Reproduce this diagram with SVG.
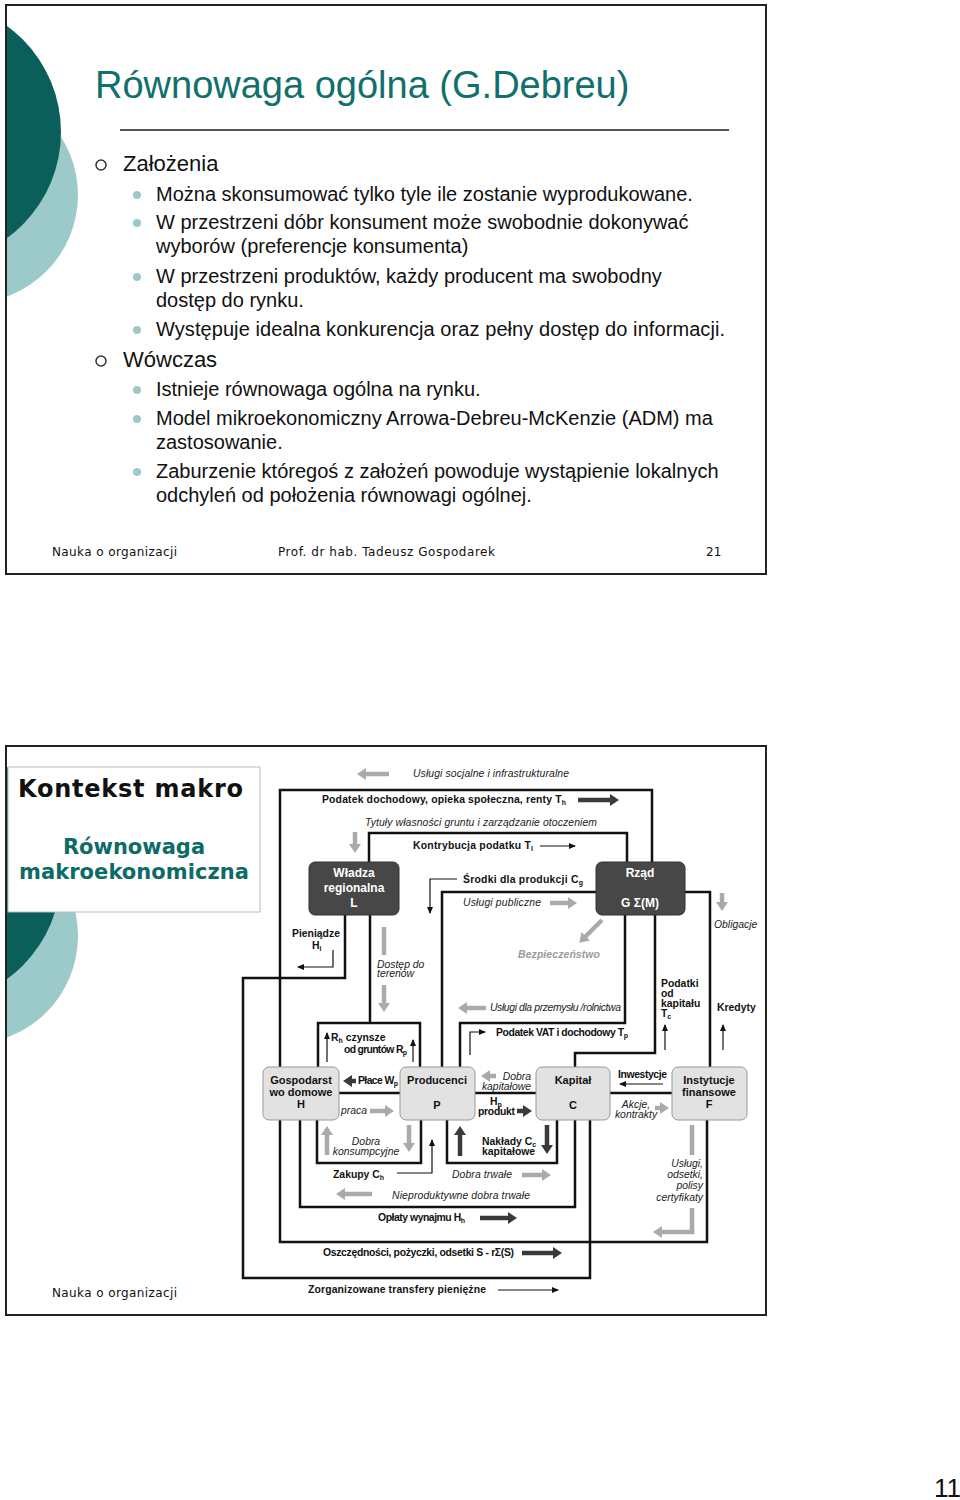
<svg xmlns="http://www.w3.org/2000/svg" width="960" height="1500" viewBox="0 0 960 1500">
<style>
.ln{fill:none;stroke:#111;stroke-width:2.5}
.b{font-family:"Liberation Sans",Arial,sans-serif;font-weight:bold;font-size:10.4px;fill:#111}
.i{font-family:"Liberation Sans",Arial,sans-serif;font-style:italic;font-size:10.4px;fill:#222}
.ga{stroke:#aaa;stroke-width:4.5;fill:none;marker-end:url(#mg)}
.gb{stroke:#aaa;stroke-width:4.5;fill:none}
.da{stroke:#3a3a3a;stroke-width:4.5;fill:none;marker-end:url(#md)}
.ta{stroke:#111;stroke-width:1.2;fill:none;marker-end:url(#mt)}
.box{fill:#e2e2e2;stroke:#999;stroke-width:1}
.dbox{fill:#474747;stroke:#333;stroke-width:1}
.bt{font-family:"Liberation Sans",Arial,sans-serif;font-weight:bold;font-size:11px;fill:#111;text-anchor:middle}
.wt{font-family:"Liberation Sans",Arial,sans-serif;font-weight:bold;font-size:12px;fill:#fff;text-anchor:middle}
.body{font-family:"Liberation Sans",Arial,sans-serif;font-size:20px;fill:#111}
.head{font-family:"Liberation Sans",Arial,sans-serif;font-size:22px;fill:#111}
.foot{font-family:"DejaVu Sans",Verdana,sans-serif;font-size:12px;fill:#111}
.dot{fill:#9ccaca}
.frame{fill:#fff;stroke:#222;stroke-width:2}
</style>
<defs>
<marker id="mg" markerUnits="userSpaceOnUse" markerWidth="10" markerHeight="12" refX="1" refY="6" orient="auto"><path d="M0,0 L9,6 L0,12z" fill="#aaa"/></marker>
<marker id="md" markerUnits="userSpaceOnUse" markerWidth="10" markerHeight="12" refX="1" refY="6" orient="auto"><path d="M0,0 L9,6 L0,12z" fill="#3a3a3a"/></marker>
<marker id="mt" markerUnits="userSpaceOnUse" markerWidth="7" markerHeight="6" refX="6" refY="3" orient="auto"><path d="M0,0 L7,3 L0,6z" fill="#111"/></marker>
<clipPath id="c1"><rect x="7" y="6" width="758" height="567"/></clipPath>
<clipPath id="c2"><rect x="7" y="747" width="758" height="567"/></clipPath>
</defs>
<rect width="960" height="1500" fill="#fff"/>

<!-- Slide 1 -->
<g id="slide1">
<rect class="frame" x="6" y="5" width="760" height="569"/>
<g clip-path="url(#c1)">
<circle cx="-30" cy="195" r="108" fill="#9ccaca"/>
<circle cx="-70" cy="132" r="131" fill="#0b5f5b"/>
</g>
<text x="95" y="98" font-family="Liberation Sans, Arial, sans-serif" font-size="38" fill="#11706b">Równowaga ogólna (G.Debreu)</text>
<line x1="120" y1="130" x2="729" y2="130" stroke="#555" stroke-width="2"/>
<circle cx="101" cy="165" r="5" fill="none" stroke="#333" stroke-width="1.5"/>
<text class="head" x="123" y="171">Założenia</text>
<circle class="dot" cx="137" cy="195" r="4"/>
<text class="body" x="156" y="201">Można skonsumować tylko tyle ile zostanie wyprodukowane.</text>
<circle class="dot" cx="137" cy="223" r="4"/>
<text class="body" x="156" y="229">W przestrzeni dóbr konsument może swobodnie dokonywać</text>
<text class="body" x="156" y="253">wyborów (preferencje konsumenta)</text>
<circle class="dot" cx="137" cy="277" r="4"/>
<text class="body" x="156" y="283">W przestrzeni produktów, każdy producent ma swobodny</text>
<text class="body" x="156" y="307">dostęp do rynku.</text>
<circle class="dot" cx="137" cy="330" r="4"/>
<text class="body" x="156" y="336" textLength="569">Występuje idealna konkurencja oraz pełny dostęp do informacji.</text>
<circle cx="101" cy="361" r="5" fill="none" stroke="#333" stroke-width="1.5"/>
<text class="head" x="123" y="367">Wówczas</text>
<circle class="dot" cx="137" cy="390" r="4"/>
<text class="body" x="156" y="396">Istnieje równowaga ogólna na rynku.</text>
<circle class="dot" cx="137" cy="419" r="4"/>
<text class="body" x="156" y="425">Model mikroekonomiczny Arrowa-Debreu-McKenzie (ADM) ma</text>
<text class="body" x="156" y="449">zastosowanie.</text>
<circle class="dot" cx="137" cy="472" r="4"/>
<text class="body" x="156" y="478">Zaburzenie któregoś z założeń powoduje wystąpienie lokalnych</text>
<text class="body" x="156" y="502">odchyleń od położenia równowagi ogólnej.</text>
<text class="foot" x="52" y="556" textLength="125">Nauka o organizacji</text>
<text class="foot" x="278" y="556" textLength="217">Prof. dr hab. Tadeusz Gospodarek</text>
<text class="foot" x="706" y="556">21</text>
</g>

<!-- Slide 2 -->
<g id="slide2">
<rect class="frame" x="6" y="746" width="760" height="569"/>
<g clip-path="url(#c2)">
<circle cx="-30" cy="936" r="108" fill="#9ccaca"/>
<circle cx="-70" cy="873" r="131" fill="#0b5f5b"/>
</g>
<g id="panel">
<rect x="8" y="767" width="252" height="145" fill="#fff" stroke="#bbb" stroke-width="1"/>
<text x="18" y="797" font-family="DejaVu Sans, Verdana, sans-serif" font-weight="bold" font-size="24" fill="#111" textLength="225">Kontekst makro</text>
<text x="134" y="854" text-anchor="middle" font-family="DejaVu Sans, Verdana, sans-serif" font-weight="bold" font-size="21" fill="#0d6b66">Równowaga</text>
<text x="134" y="879" text-anchor="middle" font-family="DejaVu Sans, Verdana, sans-serif" font-weight="bold" font-size="21" fill="#0d6b66" textLength="230">makroekonomiczna</text>
</g>
<text class="foot" x="52" y="1297" textLength="125">Nauka o organizacji</text>
</g>

<!-- Connectors -->
<g id="connectors">
<path class="ln" d="M280,1067 V790 H652 V862"/>
<path class="ln" d="M369,862 V833 H627 V862"/>
<path class="ln" d="M596,892 H442 V1067"/>
<path class="ln" d="M625,914 V1023 H460 V1067"/>
<path class="ln" d="M655,914 V1053 H575 V1067"/>
<path class="ln" d="M684,892 H710 V1067"/>
<path class="ln" d="M370,914 V1023"/>
<path class="ln" d="M318,1067 V1023 H420 V1067"/>
<path class="ln" d="M345,914 V978 H243 V1278 H590 V1120"/>
<path class="ln" d="M280,1120 V1242 H707 V1120"/>
<path class="ln" d="M339,1093 H400"/>
<path class="ln" d="M475,1093 H536"/>
<path class="ln" d="M610,1093 H672"/>
<path class="ln" d="M317,1120 V1163 H421 V1120"/>
<path class="ln" d="M447,1120 V1163 H557 V1120"/>
<path class="ln" d="M300,1120 V1207 H575 V1120"/>

<!-- flow arrows -->
<path class="ga" d="M389,774 H365"/>
<path class="da" d="M578,800 H611"/>
<path class="ga" d="M355,832 V845"/>
<path class="ta" d="M540,846 H575"/>
<path class="ta" d="M457,879 H430 V913"/>
<path class="ga" d="M550,903 H569"/>
<path class="ga" d="M602,920 L585,937"/>
<path class="ta" d="M333,950 V967 H298"/>
<path class="gb" d="M384,927 V955"/>
<path class="ga" d="M384,985 V1004"/>
<path class="ga" d="M486,1008 H466"/>
<path class="ta" d="M470,1055 V1032 H485"/>
<path class="ta" d="M665,1050 V1025"/>
<path class="ga" d="M722,893 V903"/>
<path class="ta" d="M723,1050 V1025"/>
<path class="ta" d="M327,1062 V1033"/>
<path class="ta" d="M413,1062 V1040"/>
<path class="da" d="M356,1081 H351"/>
<path class="ga" d="M370,1111 H386"/>
<path class="ga" d="M496,1076 H489"/>
<path class="da" d="M517,1111 H524"/>
<path class="ta" d="M663,1084 H620"/>
<path class="ga" d="M655,1108 H661"/>
<path class="ga" d="M327,1155 V1134"/>
<path class="ga" d="M409,1125 V1144"/>
<path class="da" d="M460,1156 V1134"/>
<path class="da" d="M547,1125 V1146"/>
<path class="ta" d="M397,1173 H432 V1140"/>
<path class="ga" d="M522,1175 H543"/>
<path class="ga" d="M372,1194 H344"/>
<path class="da" d="M480,1218 H509"/>
<path class="gb" d="M692,1125 V1155"/>
<path class="ga" d="M692,1208 V1232 H661"/>
<path class="da" d="M522,1253 H554"/>
<path class="ta" d="M498,1290 H558"/>
</g>

<!-- Nodes -->
<g id="node-L">
<rect class="dbox" x="309" y="862" width="90" height="53" rx="6"/>
<text class="wt" x="354" y="877">Władza</text>
<text class="wt" x="354" y="892">regionalna</text>
<text class="wt" x="354" y="907">L</text>
</g>
<g id="node-G">
<rect class="dbox" x="596" y="862" width="89" height="53" rx="6"/>
<text class="wt" x="640" y="877">Rząd</text>
<text class="wt" x="640" y="907">G Σ(M)</text>
</g>
<g id="node-H">
<rect class="box" x="263" y="1067" width="76" height="53" rx="6"/>
<text class="bt" x="301" y="1084">Gospodarst</text>
<text class="bt" x="301" y="1096">wo domowe</text>
<text class="bt" x="301" y="1108">H</text>
</g>
<g id="node-P">
<rect class="box" x="400" y="1067" width="75" height="53" rx="6"/>
<text class="bt" x="437" y="1084">Producenci</text>
<text class="bt" x="437" y="1109">P</text>
</g>
<g id="node-C">
<rect class="box" x="536" y="1067" width="74" height="53" rx="6"/>
<text class="bt" x="573" y="1084">Kapitał</text>
<text class="bt" x="573" y="1109">C</text>
</g>
<g id="node-F">
<rect class="box" x="672" y="1067" width="75" height="53" rx="6"/>
<text class="bt" x="709" y="1084">Instytucje</text>
<text class="bt" x="709" y="1096">finansowe</text>
<text class="bt" x="709" y="1108">F</text>
</g>

<!-- Labels -->
<g id="labels">
<text class="i" x="413" y="777" textLength="156">Usługi socjalne i infrastrukturalne</text>
<text class="b" x="322" y="803" textLength="244">Podatek dochodowy, opieka społeczna, renty T<tspan font-size="7" dy="2">h</tspan></text>
<text class="i" x="365" y="826" textLength="232">Tytuły własności gruntu i zarządzanie otoczeniem</text>
<text class="b" x="413" y="849" textLength="120">Kontrybucja podatku  T<tspan font-size="7" dy="2">l</tspan></text>
<text class="b" x="463" y="883" textLength="120">Środki dla produkcji  C<tspan font-size="7" dy="2">g</tspan></text>
<text class="i" x="463" y="906" textLength="78">Usługi publiczne</text>
<text x="518" y="958" font-family="Liberation Sans, Arial, sans-serif" font-weight="bold" font-style="italic" font-size="10.5" fill="#9a9a9a" textLength="82">Bezpieczeństwo</text>
<text class="b" x="292" y="937">Pieniądze</text>
<text class="b" x="312" y="949">H<tspan font-size="7" dy="2">i</tspan></text>
<text class="i" x="377" y="968">Dostęp do</text>
<text class="i" x="377" y="977">terenów</text>
<text class="i" x="490" y="1011" textLength="131">Usługi dla przemysłu /rolnictwa</text>
<text class="b" x="496" y="1036" textLength="132">Podatek VAT i dochodowy T<tspan font-size="7" dy="2">p</tspan></text>
<text class="b" x="661" y="987">Podatki</text>
<text class="b" x="661" y="997">od</text>
<text class="b" x="661" y="1007">kapitału</text>
<text class="b" x="661" y="1017">T<tspan font-size="7" dy="2">c</tspan></text>
<text class="i" x="714" y="928">Obligacje</text>
<text class="b" x="717" y="1011">Kredyty</text>
<text class="b" x="331" y="1041">R<tspan font-size="7" dy="2">h</tspan><tspan dy="-2"> czynsze</tspan></text>
<text class="b" x="344" y="1053" textLength="63">od gruntów R<tspan font-size="7" dy="2">p</tspan></text>
<text class="b" x="358" y="1084" textLength="40">Płace W<tspan font-size="7" dy="2">p</tspan></text>
<text class="i" x="341" y="1114">praca</text>
<text class="i" x="531" y="1080" text-anchor="end">Dobra</text>
<text class="i" x="531" y="1090" text-anchor="end">kapitałowe</text>
<text class="b" x="490" y="1105">H<tspan font-size="7" dy="2">p</tspan></text>
<text class="b" x="478" y="1115" textLength="37">produkt</text>
<text class="b" x="618" y="1078" textLength="49">Inwestycje</text>
<text class="i" x="636" y="1108" text-anchor="middle">Akcje,</text>
<text class="i" x="636" y="1118" text-anchor="middle">kontrakty</text>
<text class="i" x="366" y="1145" text-anchor="middle">Dobra</text>
<text class="i" x="366" y="1155" text-anchor="middle">konsumpcyjne</text>
<text class="b" x="482" y="1145">Nakłady C<tspan font-size="7" dy="2">c</tspan></text>
<text class="b" x="482" y="1155">kapitałowe</text>
<text class="b" x="333" y="1178">Zakupy  C<tspan font-size="7" dy="2">h</tspan></text>
<text class="i" x="452" y="1178" textLength="60">Dobra trwałe</text>
<text class="i" x="392" y="1199" textLength="138">Nieproduktywne dobra trwałe</text>
<text class="b" x="378" y="1221" textLength="87">Opłaty wynajmu H<tspan font-size="7" dy="2">h</tspan></text>
<text class="i" x="703" y="1167" text-anchor="end">Usługi,</text>
<text class="i" x="703" y="1178" text-anchor="end">odsetki,</text>
<text class="i" x="703" y="1189" text-anchor="end">polisy</text>
<text class="i" x="703" y="1201" text-anchor="end">certyfikaty</text>
<text class="b" x="323" y="1256" textLength="191">Oszczędności, pożyczki, odsetki  S - rΣ(S)</text>
<text class="b" x="308" y="1293" textLength="178">Zorganizowane transfery pieniężne</text>
</g>

<text x="934" y="1497" font-family="Liberation Sans, Arial, sans-serif" font-size="26" fill="#111">11</text>
</svg>
